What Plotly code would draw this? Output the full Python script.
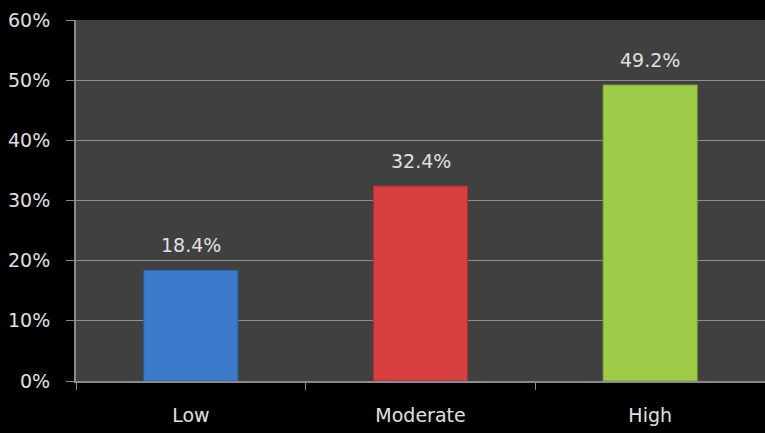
import plotly.graph_objects as go

categories = ["Low", "Moderate", "High"]
values = [0.184, 0.324, 0.492]
bar_colors = ["#3c7acb", "#d63f3f", "#9ecb48"]
edge_colors = ["#2c5f9e", "#a83030", "#78a034"]
y_ticks = [0, 0.1, 0.2, 0.3, 0.4, 0.5, 0.6]
y_tick_labels = ["0%", "10%", "20%", "30%", "40%", "50%", "60%"]

font_family = "DejaVu Sans"
text_color = "#e0e0e0"
font_size = 19

fig = go.Figure(
    go.Bar(
        x=categories,
        y=values,
        marker=dict(color=bar_colors, line=dict(color=edge_colors, width=1)),
        width=0.41,
        cliponaxis=False,
        hoverinfo="skip",
    )
)

for c, v in zip(categories, values):
    fig.add_annotation(
        x=c,
        y=v,
        text=f"{v*100:.1f}%",
        showarrow=False,
        yanchor="bottom",
        yshift=12,
        font=dict(family=font_family, size=font_size, color=text_color),
    )

fig.update_layout(
    width=765,
    height=433,
    margin=dict(l=76, r=0, t=20, b=52),
    paper_bgcolor="#000000",
    plot_bgcolor="#404040",
    showlegend=False,
    font=dict(family=font_family, size=font_size, color=text_color),
    xaxis=dict(
        range=[-0.5, 2.5],
        showgrid=False,
        showline=True,
        linecolor="#8a8a8a",
        linewidth=2,
        ticks="outside",
        tickson="boundaries",
        ticklen=7,
        tickcolor="#8a8a8a",
        ticklabelstandoff=16,
        tickfont=dict(family=font_family, size=font_size, color=text_color),
    ),
    yaxis=dict(
        range=[0, 0.6],
        tickvals=y_ticks,
        ticktext=y_tick_labels,
        showgrid=True,
        gridcolor="#8f8f8f",
        gridwidth=1,
        showline=True,
        linecolor="#8a8a8a",
        linewidth=2,
        ticks="outside",
        ticklen=8,
        tickcolor="#8a8a8a",
        ticklabelstandoff=12,
        tickfont=dict(family=font_family, size=font_size, color=text_color),
        zeroline=False,
    ),
)

fig.write_html("out.html")
